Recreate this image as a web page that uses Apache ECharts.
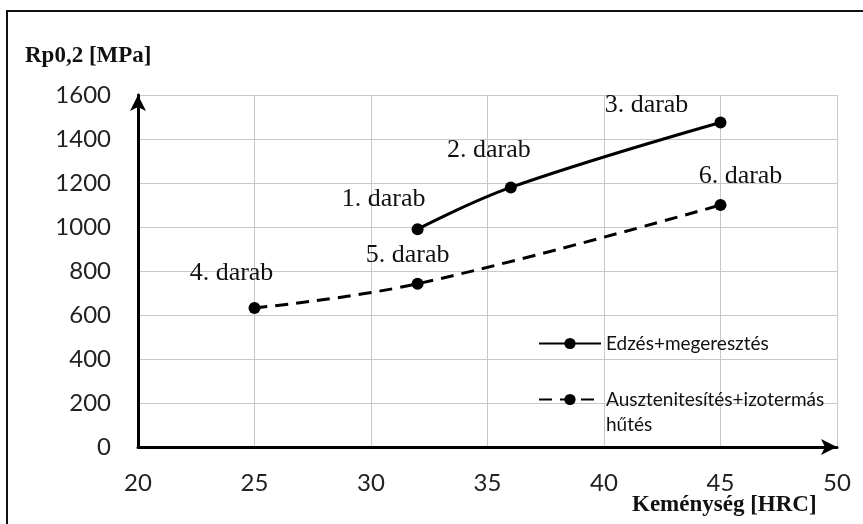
<!DOCTYPE html>
<html>
<head>
<meta charset="utf-8">
<script src="https://cdn.jsdelivr.net/npm/echarts@6/dist/echarts.min.js"></script>
<style>
  html, body { margin: 0; padding: 0; background: #fff; }
  #chart { width: 863px; height: 524px; }
</style>
</head>
<body>
<div id="chart"></div>
<script>
// adatok
const seriesNames = ['Edzés+megeresztés', 'Ausztenitesítés+izotermás\nhűtés']
const hardness1 = [32, 36, 45]
const strength1 = [990, 1180, 1475]
const pieceLabels1 = ['1. darab', '2. darab', '3. darab']
const hardness2 = [25, 32, 45]
const strength2 = [632, 742, 1100]
const pieceLabels2 = ['4. darab', '5. darab', '6. darab']
const xTicks = [20, 25, 30, 35, 40, 45, 50]
const yTicks = [0, 200, 400, 600, 800, 1000, 1200, 1400, 1600]

// feliratok eltolása a pontokhoz képest
const labelOffsets1 = [[-34, -6], [-22, -13], [-74, 7]]
const labelOffsets2 = [[-23, -11], [-10, -5], [20, -5]]

const chart = echarts.init(document.getElementById('chart'))

function points (xs, ys, names, offsets) {
  return xs.map((x, i) => ({
    value: [x, ys[i]],
    label: { formatter: names[i], offset: offsets[i] }
  }))
}

const pointLabel = {
  show: true,
  position: 'top',
  distance: 5,
  color: '#111',
  fontFamily: 'Liberation Serif',
  fontSize: 26
}

const legendText = { fontFamily: 'Lato', fontSize: 19, color: '#111', lineHeight: 25 }

const option = {
  animation: false,
  backgroundColor: '#fff',
  textStyle: { fontFamily: 'Lato' },
  graphic: [{
    type: 'rect',
    shape: { x: 7, y: 11, width: 880, height: 540 },
    style: { fill: 'none', stroke: '#111', lineWidth: 2 },
    z: 100
  }],
  title: [
    {
      text: 'Rp0,2 [MPa]',
      left: 25,
      top: 45,
      padding: 0,
      textStyle: { fontFamily: 'Liberation Serif', fontWeight: 'bold', fontSize: 23, color: '#111' }
    },
    {
      text: 'Keménység [HRC]',
      left: 632,
      top: 494,
      padding: 0,
      textStyle: { fontFamily: 'Liberation Serif', fontWeight: 'bold', fontSize: 23, color: '#111' }
    }
  ],
  grid: { left: 138, right: 26, top: 95, bottom: 77 },
  legend: [
    {
      data: [seriesNames[0]],
      left: 538,
      top: 331,
      padding: 0,
      itemWidth: 62,
      itemHeight: 14,
      textStyle: legendText
    },
    {
      data: [seriesNames[1]],
      // üres első sor, hogy az ikon az első szövegsorhoz igazodjon
      formatter: name => '\n' + name,
      left: 538,
      top: 362,
      padding: 0,
      itemWidth: 62,
      itemHeight: 14,
      textStyle: legendText
    }
  ],
  xAxis: {
    type: 'value',
    min: xTicks[0],
    max: xTicks[xTicks.length - 1],
    interval: 5,
    axisLine: {
      lineStyle: { color: '#000', width: 3 },
      symbol: ['none', 'arrow'],
      symbolSize: [12, 16]
    },
    axisTick: { show: false },
    axisLabel: { margin: 24, fontSize: 24, color: '#222', fontFamily: 'Lato' },
    splitLine: { show: true, lineStyle: { color: '#c8c8c8', width: 1 } }
  },
  yAxis: {
    type: 'value',
    min: yTicks[0],
    max: yTicks[yTicks.length - 1],
    interval: 200,
    axisLine: {
      show: true,
      lineStyle: { color: '#000', width: 3 },
      symbol: ['none', 'arrow'],
      symbolSize: [12, 16]
    },
    axisTick: { show: false },
    axisLabel: {
      margin: 27,
      fontSize: 24,
      color: '#222',
      fontFamily: 'Lato',
      formatter: value => String(value)
    },
    splitLine: { show: true, lineStyle: { color: '#c8c8c8', width: 1 } }
  },
  series: [
    {
      name: seriesNames[0],
      type: 'line',
      smooth: 0.4,
      symbol: 'circle',
      symbolSize: 12,
      itemStyle: { color: '#000' },
      lineStyle: { color: '#000', width: 3 },
      label: pointLabel,
      data: points(hardness1, strength1, pieceLabels1, labelOffsets1)
    },
    {
      name: seriesNames[1],
      type: 'line',
      smooth: 0.4,
      symbol: 'circle',
      symbolSize: 12,
      itemStyle: { color: '#000' },
      lineStyle: { color: '#000', width: 3, type: [13, 8] },
      label: pointLabel,
      data: points(hardness2, strength2, pieceLabels2, labelOffsets2)
    }
  ]
}

chart.setOption(option)
</script>
</body>
</html>
